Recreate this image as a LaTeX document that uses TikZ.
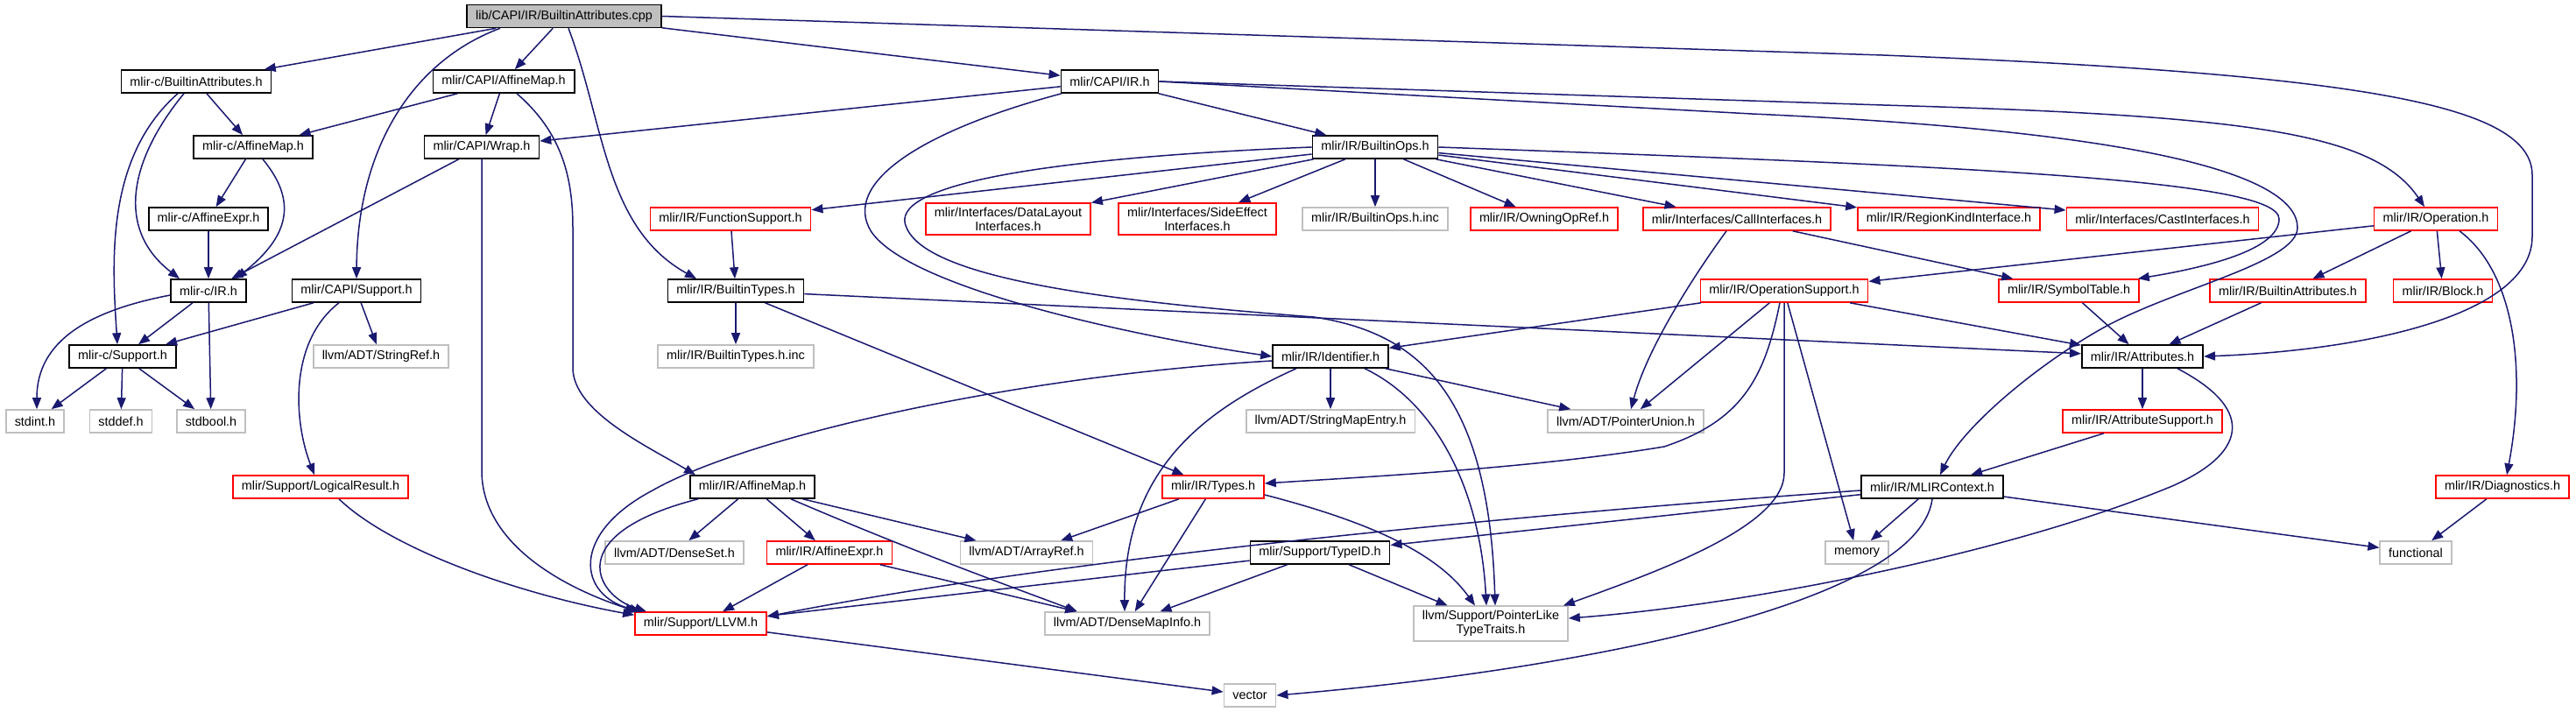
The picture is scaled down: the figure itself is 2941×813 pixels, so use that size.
\documentclass[tikz,border=0pt]{standalone}
\usepackage{fontspec}
\setmainfont{Liberation Sans}
\usetikzlibrary{arrows.meta}
\definecolor{edgeblue}{HTML}{191970}
\definecolor{leafgray}{HTML}{BFBFBF}
\definecolor{truncred}{HTML}{FF0000}
\tikzset{
  box/.style={draw, line width=1.6pt, inner xsep=10pt, inner ysep=5pt, minimum height=26pt, align=center, font=\fontsize{14.4}{16}\selectfont, fill=white},
  nb/.style={box, draw=black},
  rb/.style={box, draw=truncred},
  gb/.style={box, draw=leafgray},
  rootb/.style={box, draw=black, fill=leafgray},
  e/.style={draw=edgeblue, line width=1.5pt, -{Triangle[length=13pt,width=10pt]}},
}
\begin{document}
\begin{tikzpicture}[x=1pt,y=-1pt]
\useasboundingbox (0,0) rectangle (2941,813);
% nodes
\node[rootb] (root) at (644,18.5) {lib/CAPI/IR/BuiltinAttributes.cpp};
\node[nb] (biattrc) at (224,93) {mlir-c/BuiltinAttributes.h};
\node[nb] (capiaffmap) at (575,93) {mlir/CAPI/AffineMap.h};
\node[nb] (capiir) at (1267,93) {mlir/CAPI/IR.h};
\node[nb] (caffmap) at (289,168) {mlir-c/AffineMap.h};
\node[nb] (wrap) at (550,168) {mlir/CAPI/Wrap.h};
\node[nb] (builtinops) at (1570,168) {mlir/IR/BuiltinOps.h};
\node[nb] (caffexpr) at (238,250) {mlir-c/AffineExpr.h};
\node[rb] (funcsupport) at (834,250) {mlir/IR/FunctionSupport.h};
\node[rb] (datalayout) at (1151,250) {mlir/Interfaces/DataLayout\\Interfaces.h};
\node[rb] (sideeffect) at (1367,250) {mlir/Interfaces/SideEffect\\Interfaces.h};
\node[gb] (opsinc) at (1570,250) {mlir/IR/BuiltinOps.h.inc};
\node[rb] (owning) at (1763,250) {mlir/IR/OwningOpRef.h};
\node[rb] (callif) at (1983,250) {mlir/Interfaces/CallInterfaces.h};
\node[rb] (regionkind) at (2225,250) {mlir/IR/RegionKindInterface.h};
\node[rb] (castif) at (2469,250) {mlir/Interfaces/CastInterfaces.h};
\node[rb] (operation) at (2781,250) {mlir/IR/Operation.h};
\node[nb] (cir) at (238,332) {mlir-c/IR.h};
\node[nb] (capisupport) at (407,332) {mlir/CAPI/Support.h};
\node[nb] (builtintypes) at (840,332) {mlir/IR/BuiltinTypes.h};
\node[rb] (opsupport) at (2037,332) {mlir/IR/OperationSupport.h};
\node[rb] (symtab) at (2362,332) {mlir/IR/SymbolTable.h};
\node[rb] (irbattr) at (2612,332) {mlir/IR/BuiltinAttributes.h};
\node[rb] (block) at (2789,332) {mlir/IR/Block.h};
\node[nb] (csupport) at (140,407) {mlir-c/Support.h};
\node[gb] (stringref) at (435,407) {llvm/ADT/StringRef.h};
\node[gb] (typesinc) at (840,407) {mlir/IR/BuiltinTypes.h.inc};
\node[nb] (identifier) at (1519,407) {mlir/IR/Identifier.h};
\node[nb] (attributes) at (2446,407) {mlir/IR/Attributes.h};
\node[gb] (stdint) at (40,481) {stdint.h};
\node[gb] (stddef) at (138,481) {stddef.h};
\node[gb] (stdbool) at (241,481) {stdbool.h};
\node[gb] (smentry) at (1519,481) {llvm/ADT/StringMapEntry.h};
\node[gb] (punion) at (1856,481) {llvm/ADT/PointerUnion.h};
\node[rb] (attrsupport) at (2446,481) {mlir/IR/AttributeSupport.h};
\node[rb] (logical) at (366,556) {mlir/Support/LogicalResult.h};
\node[nb] (iraffmap) at (859,556) {mlir/IR/AffineMap.h};
\node[rb] (types) at (1385,556) {mlir/IR/Types.h};
\node[nb] (context) at (2206,556) {mlir/IR/MLIRContext.h};
\node[rb] (diag) at (2857,556) {mlir/IR/Diagnostics.h};
\node[gb] (denseset) at (770,631) {llvm/ADT/DenseSet.h};
\node[rb] (iraffexpr) at (947,631) {mlir/IR/AffineExpr.h};
\node[gb] (arrayref) at (1172,631) {llvm/ADT/ArrayRef.h};
\node[nb] (typeid) at (1507,631) {mlir/Support/TypeID.h};
\node[gb] (memory) at (2120,631) {memory};
\node[gb] (functional) at (2758,631) {functional};
\node[rb] (llvmh) at (800,712) {mlir/Support/LLVM.h};
\node[gb] (dmi) at (1287,712) {llvm/ADT/DenseMapInfo.h};
\node[gb] (plike) at (1702,712) {llvm/Support/PointerLike\\TypeTraits.h};
\node[gb] (vector) at (1427,794) {vector};
% straight edges
\foreach \a/\b in {root/biattrc, root/capiaffmap, root/capiir, biattrc/caffmap,
  capiaffmap/caffmap, capiaffmap/wrap, capiir/wrap, capiir/builtinops,
  caffmap/caffexpr, wrap/cir, caffexpr/cir, cir/csupport, cir/stdbool,
  capisupport/csupport, capisupport/stringref, csupport/stdint, csupport/stddef, csupport/stdbool,
  builtinops/funcsupport, builtinops/datalayout, builtinops/sideeffect, builtinops/opsinc,
  builtinops/owning, builtinops/callif, builtinops/regionkind, builtinops/castif,
  funcsupport/builtintypes, builtintypes/typesinc, builtintypes/attributes, builtintypes/types,
  callif/symtab, operation/opsupport, operation/irbattr, operation/block,
  opsupport/identifier, opsupport/punion, opsupport/memory, opsupport/attributes,
  symtab/attributes, irbattr/attributes, identifier/smentry, identifier/punion,
  attributes/attrsupport, attrsupport/context, iraffmap/denseset, iraffmap/iraffexpr,
  iraffmap/arrayref, iraffexpr/llvmh, iraffexpr/dmi, types/arrayref, types/dmi,
  typeid/dmi, typeid/plike, typeid/llvmh, context/typeid, context/memory,
  context/functional, diag/functional, llvmh/vector}
  {\draw[e] (\a) -- (\b);}
% curved edges
\draw[e] ([xshift=-73pt]root.south) .. controls (470,70) and (408,170) .. (capisupport.north);
\draw[e] ([xshift=5pt]root.south) .. controls (690,140) and (690,260) .. ([xshift=-45pt]builtintypes.north);
\draw[e] (root.east) -- (2150,63) .. controls (2700,85) and (2891,120) .. (2891,200) -- (2891,270) .. controls (2891,360) and (2700,400) .. (attributes.east);
\draw[e] (capiir.east) -- (2150,120) .. controls (2560,132) and (2710,150) .. ([xshift=-13pt]operation.north);
\draw[e] (capiir.east) -- (2000,130) .. controls (2450,150) and (2623,200) .. (2623,260) .. controls (2623,300) and (2480,330) .. (2400,375) .. controls (2320,420) and (2240,490) .. ([xshift=9pt]context.north);
\draw[e] ([xshift=-55pt]capiir.south) .. controls (1050,150) and (960,210) .. (995,265) .. controls (1040,330) and (1300,385) .. (identifier.west);
\draw[e] (builtinops.west) .. controls (1200,180) and (1010,210) .. (1035,260) .. controls (1060,320) and (1280,345) .. (1500,362) .. controls (1620,380) and (1700,450) .. ([xshift=5pt]plike.north);
\draw[e] ([xshift=39pt]identifier.south) .. controls (1640,460) and (1690,560) .. ([xshift=-5pt]plike.north);
\draw[e] ([yshift=-5pt]identifier.west) .. controls (1150,430) and (850,500) .. (745,560) .. controls (650,610) and (660,680) .. ([xshift=-68pt]llvmh.north);
\draw[e] ([xshift=-62pt]iraffmap.south) .. controls (640,610) and (680,680) .. ([xshift=-62pt]llvmh.north);
\draw[e] (wrap.south) -- (550,540) .. controls (552,620) and (640,670) .. ([xshift=-73pt]llvmh.north);
\draw[e] ([xshift=21pt]logical.south) .. controls (450,630) and (600,680) .. ([yshift=-4pt]llvmh.north west);
\draw[e] ([xshift=-20pt]capisupport.south) .. controls (330,390) and (335,480) .. ([xshift=-7pt]logical.north);
\draw[e] ([xshift=15pt]capiaffmap.south) .. controls (640,150) and (654,200) .. (654,260) -- (654,420) .. controls (654,470) and (740,510) .. ([xshift=-65pt]iraffmap.north);
\draw[e] ([yshift=-5pt]cir.west) .. controls (100,355) and (42,390) .. ([xshift=2pt]stdint.north);
\draw[e] ([xshift=-21pt]biattrc.south) .. controls (120,180) and (128,300) .. ([xshift=-6pt]csupport.north);
\draw[e] ([xshift=-14pt]biattrc.south) .. controls (150,180) and (130,260) .. ([xshift=-33pt]cir.north);
\draw[e] ([xshift=11pt]caffmap.south) .. controls (340,230) and (330,270) .. ([xshift=31pt]cir.north);
\draw[e] ([xshift=-12pt]callif.south) .. controls (1930,320) and (1880,400) .. ([xshift=6pt]punion.north);
\draw[e] (builtinops.east) .. controls (2250,190) and (2602,205) .. (2602,250) .. controls (2602,285) and (2520,305) .. ([xshift=-2pt]symtab.north east);
\draw[e] ([xshift=27pt]operation.south) .. controls (2870,310) and (2885,420) .. ([xshift=5pt]diag.north);
\draw[e] ([xshift=40pt]attributes.south) .. controls (2580,470) and (2560,520) .. (2480,555) .. controls (2300,630) and (2000,690) .. ([yshift=6pt]plike.east);
\draw[e] (context.south) .. controls (2190,690) and (1800,765) .. (vector.east);
\draw[e] ([yshift=-4pt]context.west) .. controls (1700,590) and (1200,640) .. ([yshift=8pt]llvmh.east);
\draw[e] ([xshift=-5pt]opsupport.south) .. controls (2015,430) and (1990,480) .. (1900,510) .. controls (1750,535) and (1550,545) .. ([yshift=4pt]types.east);
\draw[e] (opsupport.south) -- (2037,540) .. controls (2037,600) and (1900,650) .. ([xshift=-6pt]plike.north east);
\draw[e] ([xshift=-39pt]identifier.south) .. controls (1370,470) and (1283,540) .. ([xshift=-3pt]dmi.north);
\draw[e] ([yshift=-9pt]types.east) .. controls (1560,595) and (1640,630) .. ([xshift=-18pt]plike.north);
\draw[e] ([xshift=44pt]iraffmap.south) .. controls (1020,620) and (1100,650) .. ([xshift=-57pt]dmi.north);
\end{tikzpicture}
\end{document}
